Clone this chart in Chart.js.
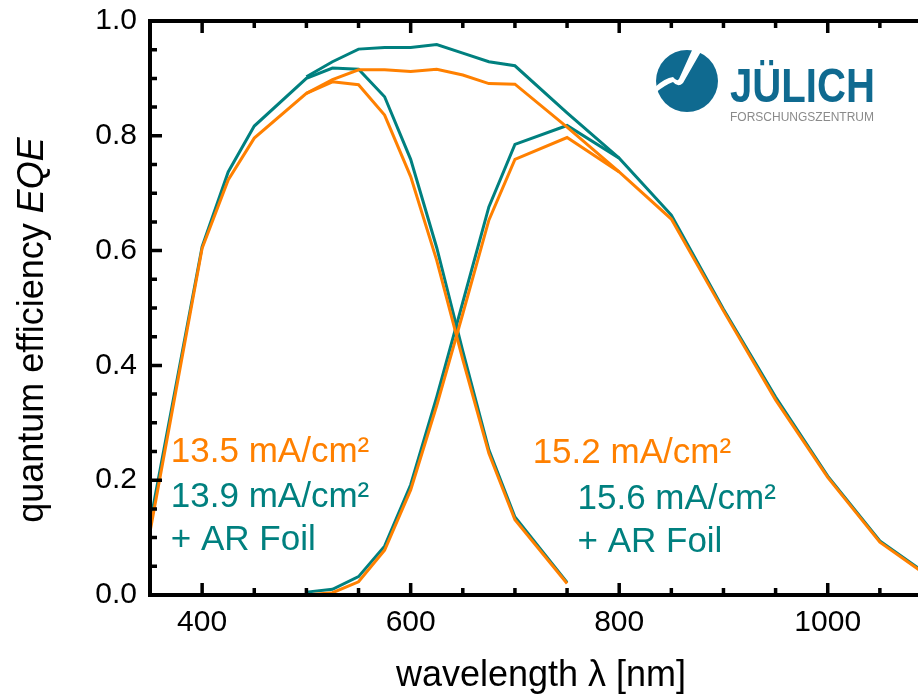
<!DOCTYPE html>
<html>
<head>
<meta charset="utf-8">
<title>Quantum efficiency</title>
<script src="https://cdn.jsdelivr.net/npm/chart.js@4.4.1/dist/chart.umd.min.js"></script>
<style>
  html, body { margin: 0; padding: 0; overflow: hidden; background: #fff; }
  canvas { display: block; }
</style>
</head>
<body>
<canvas id="eqeChart" width="940" height="700"></canvas>
<script>
const wavelength = [350, 400, 425, 450, 500, 525, 550, 575, 600, 625, 650, 675, 700, 750, 800, 850, 900, 950, 1000, 1050, 1100];

// top cell
const topRef  = [0.110, 0.604, 0.723, 0.796, 0.874, 0.894, 0.889, 0.836, 0.729, 0.583, 0.410, 0.247, 0.131, 0.020, null, null, null, null, null, null, null];
const topFoil = [0.125, 0.607, 0.737, 0.817, 0.900, 0.918, 0.916, 0.868, 0.759, 0.605, 0.425, 0.253, 0.136, 0.022, null, null, null, null, null, null, null];
// bottom cell
const bottomRef  = [null, null, null, null, 0.000, 0.004, 0.023, 0.078, 0.183, 0.330, 0.490, 0.653, 0.759, 0.797, 0.737, 0.655, 0.495, 0.340, 0.205, 0.092, 0.028];
const bottomFoil = [null, null, null, null, 0.005, 0.010, 0.032, 0.085, 0.192, 0.345, 0.510, 0.676, 0.785, 0.818, 0.761, 0.662, 0.498, 0.345, 0.207, 0.094, 0.030];
// total (top + bottom)
const totalRef  = [null, null, null, null, 0.874, 0.898, 0.915, 0.915, 0.912, 0.916, 0.906, 0.891, 0.890, 0.815, 0.737, null, null, null, null, null, null];
const totalFoil = [null, null, null, null, 0.903, 0.929, 0.951, 0.954, 0.954, 0.959, 0.944, 0.929, 0.922, 0.840, 0.761, null, null, null, null, null, null];

const xTicks = [400, 600, 800, 1000];
const xTickLabels = ['400', '600', '800', '1000'];
const yTicks = [0, 0.2, 0.4, 0.6, 0.8, 1.0];
const yTickLabels = ['0.0', '0.2', '0.4', '0.6', '0.8', '1.0'];

const ORANGE = '#ff8000';
const TEAL = '#00807f';
const FONT = '"Liberation Sans", Arial, sans-serif';

function series(values) {
  return wavelength.map((w, i) => ({ x: w, y: values[i] }));
}

function line(values, color) {
  return {
    data: series(values),
    borderColor: color,
    borderWidth: 3,
    pointRadius: 0,
    tension: 0,
    spanGaps: false,
    fill: false
  };
}

// frame, inward ticks, annotations, y title and logo
const decorations = {
  id: 'decorations',
  afterDatasetsDraw(chart) {
    const ctx = chart.ctx;
    const { left, right, top, bottom } = chart.chartArea;
    const xs = chart.scales.x;
    const ys = chart.scales.y;
    ctx.save();

    ctx.strokeStyle = '#000';
    ctx.lineWidth = 3.5;
    ctx.lineCap = 'butt';
    for (let w = 350; w <= 1100; w += 50) {
      const px = xs.getPixelForValue(w);
      const len = xTicks.includes(w) ? 12 : 7;
      ctx.beginPath();
      ctx.moveTo(px, bottom); ctx.lineTo(px, bottom - len);
      ctx.moveTo(px, top); ctx.lineTo(px, top + len);
      ctx.stroke();
    }
    for (let k = 0; k <= 20; k++) {
      const v = k * 0.05;
      const py = ys.getPixelForValue(v);
      const len = k % 4 === 0 ? 12 : 7;
      ctx.beginPath();
      ctx.moveTo(left, py); ctx.lineTo(left + len, py);
      ctx.moveTo(right, py); ctx.lineTo(right - len, py);
      ctx.stroke();
    }
    ctx.lineWidth = 4;
    ctx.strokeRect(left, top, right - left, bottom - top);

    // current densities
    ctx.font = '35px ' + FONT;
    ctx.textAlign = 'left';
    ctx.textBaseline = 'alphabetic';
    const note = (text, color, w, q) => {
      ctx.fillStyle = color;
      ctx.fillText(text, xs.getPixelForValue(w), ys.getPixelForValue(q));
    };
    note('13.5 mA/cm²', ORANGE, 370, 0.232);
    note('13.9 mA/cm²', TEAL, 370, 0.153);
    note('+ AR Foil', TEAL, 370, 0.078);
    note('15.2 mA/cm²', ORANGE, 717, 0.230);
    note('15.6 mA/cm²', TEAL, 760, 0.150);
    note('+ AR Foil', TEAL, 760, 0.075);

    // y axis title with italic EQE
    ctx.fillStyle = '#000';
    ctx.translate(33, (top + bottom) / 2 + 22);
    ctx.rotate(-Math.PI / 2);
    ctx.textBaseline = 'middle';
    const partA = 'quantum efficiency ';
    const partB = 'EQE';
    ctx.font = '36px ' + FONT;
    const wA = ctx.measureText(partA).width;
    ctx.font = 'italic 36px ' + FONT;
    const wB = ctx.measureText(partB).width;
    const start = -(wA + wB) / 2;
    ctx.font = '36px ' + FONT;
    ctx.fillText(partA, start, 0);
    ctx.font = 'italic 36px ' + FONT;
    ctx.fillText(partB, start + wA, 0);
    ctx.restore();

    // institute logo
    ctx.save();
    const blue = '#0f6a90';
    const cx = 687, cy = 81, r = 31;
    ctx.fillStyle = blue;
    ctx.beginPath();
    ctx.arc(cx, cy, r, 0, Math.PI * 2);
    ctx.fill();
    ctx.fillStyle = '#fff';
    ctx.beginPath();
    ctx.moveTo(cx + 6, cy - 33);
    ctx.lineTo(cx + 16, cy - 33);
    ctx.lineTo(cx - 4, cy + 2);
    ctx.quadraticCurveTo(cx - 9, cy + 7, cx - 14, cy + 1);
    ctx.quadraticCurveTo(cx - 22, cy + 4, cx - 32, cy + 12);
    ctx.lineTo(cx - 32, cy + 6);
    ctx.quadraticCurveTo(cx - 22, cy - 3, cx - 14, cy - 4);
    ctx.quadraticCurveTo(cx - 10, cy + 1, cx - 8, cy - 2);
    ctx.closePath();
    ctx.fill();
    ctx.fillStyle = blue;
    ctx.font = 'bold 49px "Liberation Sans Narrow", "Liberation Sans", sans-serif';
    ctx.textAlign = 'left';
    ctx.textBaseline = 'alphabetic';
    ctx.fillText('JÜLICH', 730, 102, 145);
    ctx.fillStyle = '#8a8a8a';
    ctx.font = '12px ' + FONT;
    ctx.fillText('FORSCHUNGSZENTRUM', 730, 121, 146);
    ctx.restore();
  }
};

new Chart(document.getElementById('eqeChart'), {
  type: 'line',
  data: {
    datasets: [
      line(topRef, ORANGE),
      line(bottomRef, ORANGE),
      line(totalRef, ORANGE),
      line(topFoil, TEAL),
      line(bottomFoil, TEAL),
      line(totalFoil, TEAL)
    ]
  },
  options: {
    responsive: false,
    animation: false,
    layout: { padding: { top: 21, right: 8, left: 0, bottom: 0 } },
    plugins: { legend: { display: false }, tooltip: { enabled: false } },
    scales: {
      x: {
        type: 'linear',
        min: 350,
        max: 1100,
        grid: { display: false, drawTicks: false },
        border: { display: false },
        afterBuildTicks: s => { s.ticks = xTicks.map(v => ({ value: v })); },
        afterFit: s => { s.height = 105; s.paddingLeft = 0; s.paddingRight = 0; },
        ticks: {
          autoSkip: false,
          maxRotation: 0,
          padding: 10,
          color: '#000',
          font: { family: FONT, size: 30 },
          callback: v => xTickLabels[xTicks.indexOf(v)]
        },
        title: {
          display: true,
          text: 'wavelength λ [nm]',
          color: '#000',
          font: { family: FONT, size: 36 },
          padding: { top: 0, bottom: 2 }
        }
      },
      y: {
        min: 0,
        max: 1,
        grid: { display: false, drawTicks: false },
        border: { display: false },
        afterBuildTicks: s => { s.ticks = yTicks.map(v => ({ value: v })); },
        afterFit: s => { s.width = 150; s.paddingTop = 0; s.paddingBottom = 0; },
        ticks: {
          padding: 13,
          color: '#000',
          font: { family: FONT, size: 30 },
          callback: v => yTickLabels[yTicks.indexOf(v)]
        }
      }
    }
  },
  plugins: [decorations]
});
</script>
</body>
</html>
